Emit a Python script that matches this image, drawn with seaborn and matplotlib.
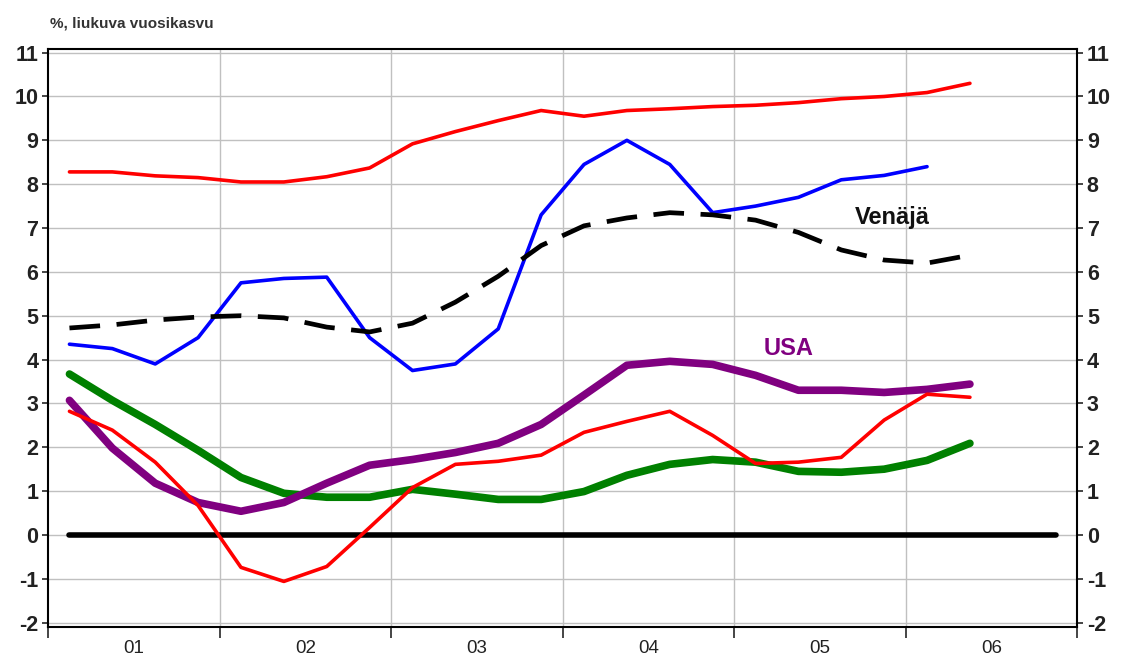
import numpy as np
import pandas as pd
import matplotlib
matplotlib.use("Agg")
import matplotlib.pyplot as plt
import seaborn as sns

# Quarterly observations, 2001Q1 onwards (plotted at quarter mid-points)
red_high = [8.28, 8.28, 8.19, 8.15, 8.05, 8.05, 8.17, 8.37, 8.92, 9.2, 9.45,
            9.68, 9.55, 9.68, 9.72, 9.77, 9.8, 9.86, 9.95, 10.0, 10.09, 10.3]
blue = [4.35, 4.25, 3.9, 4.5, 5.75, 5.85, 5.88, 4.5, 3.75, 3.9, 4.7,
        7.3, 8.45, 9.0, 8.45, 7.35, 7.5, 7.7, 8.1, 8.2, 8.4]
venaja = [4.72, 4.79, 4.9, 4.97, 5.0, 4.95, 4.74, 4.63, 4.83, 5.31, 5.9,
          6.6, 7.05, 7.23, 7.35, 7.3, 7.18, 6.9, 6.5, 6.27, 6.2, 6.38]
green = [3.67, 3.07, 2.52, 1.93, 1.31, 0.95, 0.86, 0.86, 1.04, 0.93, 0.81,
         0.81, 0.99, 1.36, 1.61, 1.72, 1.66, 1.45, 1.43, 1.5, 1.7, 2.09]
usa = [3.07, 1.98, 1.18, 0.74, 0.54, 0.74, 1.18, 1.59, 1.72, 1.88, 2.09,
       2.52, 3.19, 3.87, 3.96, 3.89, 3.64, 3.3, 3.3, 3.25, 3.32, 3.44]
red_low = [2.82, 2.39, 1.66, 0.67, -0.74, -1.06, -0.72, 0.17, 1.08, 1.61, 1.68,
           1.82, 2.34, 2.59, 2.82, 2.27, 1.63, 1.66, 1.77, 2.62, 3.21, 3.14]
zero_line = [0.0] * 24

year_labels = ["01", "02", "03", "04", "05", "06"]
y_ticks = list(range(-2, 12))


def quarters(values):
    return 2001 + (np.arange(len(values)) + 0.5) / 4


sns.set_theme(style="white")
plt.rcParams["font.family"] = ["Liberation Sans", "DejaVu Sans"]

fig = plt.figure(figsize=(11.22, 6.64), dpi=100)
ax = fig.add_axes([0.0428, 0.0557, 0.9172, 0.8703])

ax.set_xlim(2001, 2007)
ax.set_ylim(-2.1, 11.08)

for x in range(2002, 2007):
    ax.axvline(x, color="#c0c0c0", lw=1, zorder=0)
for y in y_ticks:
    ax.axhline(y, color="#c0c0c0", lw=1, zorder=0)

series = [
    (red_high, "#ff0000", 2.6, "-"),
    (blue, "#0000ff", 2.6, "-"),
    (venaja, "black", 3.4, (0, (6.5, 3.5))),
    (green, "#008000", 5.5, "-"),
    (usa, "#800080", 5.5, "-"),
    (red_low, "#ff0000", 2.6, "-"),
]
sns.lineplot(x=quarters(zero_line), y=zero_line, ax=ax, color="black", lw=4)
for vals, col, lw, ls in series:
    sns.lineplot(x=quarters(vals), y=vals, ax=ax, color=col, lw=lw, linestyle=ls,
                 solid_joinstyle="round", solid_capstyle="round",
                 dash_joinstyle="round")

ax.text(2005.92, 7.23, "Venäjä", fontsize=17, fontweight="bold", color="#111111",
        ha="center", va="center")
ax.text(2005.32, 4.26, "USA", fontsize=17, fontweight="bold", color="#800080",
        ha="center", va="center")

# axes frame
for side in ["left", "right", "top", "bottom"]:
    ax.spines[side].set_visible(True)
    ax.spines[side].set_color("black")
    ax.spines[side].set_linewidth(1.5)

ax.set_yticks(y_ticks)
ax.set_yticklabels([str(t) for t in y_ticks], fontsize=15.5, fontweight="bold",
                   color="#222222")
ax.tick_params(axis="y", which="both", left=True, right=True, labelleft=True,
               labelright=True, direction="out", length=4, width=1.2, pad=3)

ax.set_xticks(range(2001, 2008))
ax.set_xticklabels([])
ax.set_xticks([y + 0.5 for y in range(2001, 2007)], minor=True)
ax.set_xticklabels(year_labels, minor=True, fontsize=13.5, color="#222222",
                   family=["Liberation Sans Narrow", "Liberation Sans", "DejaVu Sans"])
ax.tick_params(axis="x", which="major", bottom=True, direction="out", length=8,
               width=1.2)
ax.tick_params(axis="x", which="minor", bottom=False, length=0, pad=9)

fig.text(0.045, 0.965, "%, liukuva vuosikasvu", fontsize=11, fontweight="bold",
         color="#333333", ha="left", va="center")

fig.savefig("out.png", dpi=100)
